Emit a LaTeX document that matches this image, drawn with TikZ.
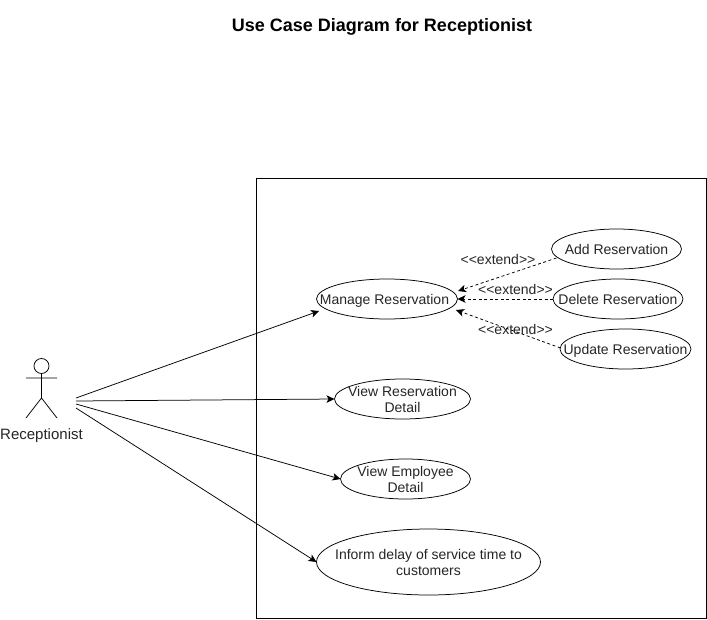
\documentclass[tikz,border=0pt]{standalone}
\usepackage{fontspec}
\setmainfont{Liberation Sans}
\usetikzlibrary{shapes.geometric,arrows.meta}
\begin{document}
\begin{tikzpicture}[x=1pt,y=-1pt,
 uc/.style={draw,ellipse,line width=.75pt,inner sep=0pt,outer sep=0pt},
 uct/.style={inner sep=0pt,align=center,font=\fontsize{14}{16}\selectfont,text=black!85},
 lbl/.style={inner sep=0pt,font=\fontsize{14}{16}\selectfont,text=black!85},
 assoc/.style={line width=.75pt,-{Stealth[length=8pt,width=7.5pt,inset=2pt]}},
 ext/.style={assoc,dash pattern=on 3pt off 2.5pt}]
\useasboundingbox (0,0) rectangle (707,619);
\fill[white] (0,0) rectangle (707,619);
\node[inner sep=0pt,font=\bfseries\fontsize{18}{21}\selectfont] (title) at (382,26.5) {Use Case Diagram for Receptionist};
\node[draw,line width=.75pt,minimum width=450pt,minimum height=439.5pt,inner sep=0pt] (sys) at (481,398.5) {};
\node[uc,minimum width=141pt,minimum height=40pt,label={[uct,xshift=-2.5pt,yshift=-1.5pt]center:Manage Reservation}] (mr) at (387,299) {};
\node[uc,minimum width=130pt,minimum height=40pt,label={[uct]center:Add Reservation}] (add) at (616.5,249) {};
\node[uc,minimum width=130pt,minimum height=40pt,label={[uct]center:Delete Reservation}] (del) at (618,299) {};
\node[uc,minimum width=131pt,minimum height=40pt,label={[uct,yshift=-1.5pt]center:Update Reservation}] (upd) at (625.5,349) {};
\node[uc,minimum width=136pt,minimum height=40pt,label={[uct]center:{View Reservation\\Detail}}] (vr) at (402.5,399) {};
\node[uc,minimum width=130pt,minimum height=40pt,label={[uct]center:{View Employee\\Detail}}] (ve) at (405.5,479) {};
\node[uc,minimum width=224pt,minimum height=66pt,label={[uct]center:{Inform delay of service time to\\customers}}] (inf) at (428.5,562) {};
\coordinate (head) at (41.5,366);
\draw[line width=.75pt] (head) circle (7.5pt);
\coordinate (neck) at (41.5,373.5);
\coordinate (hip) at (41.5,398);
\coordinate (armL) at (26,378);
\coordinate (armR) at (57,378);
\coordinate (footL) at (26,418);
\coordinate (footR) at (57,418);
\draw[line width=.75pt] (neck)--(hip) (armL)--(armR) (footL)--(hip)--(footR);
\node[inner sep=0pt,font=\fontsize{15}{17}\selectfont,text=black!85] (actor) at (41.5,436) {Receptionist};
\coordinate (a1) at (76,398);
\coordinate (a2) at (76,401);
\coordinate (a3) at (76,404);
\coordinate (a4) at (76,408);
\draw[assoc] (a1)--([shift={(-68,12)}]mr.center);
\draw[assoc] (a2)--(vr.west);
\draw[assoc] (a3)--(ve.west);
\draw[assoc] (a4)--(inf.west);
\draw[ext] ([shift={(-60,9)}]add.center)--([shift={(71,-8)}]mr.center);
\draw[ext] (del.west)--(mr.east);
\draw[ext] ([shift={(-65,-1)}]upd.center)--([shift={(69,11)}]mr.center);
\node[lbl] (e1) at (498,259) {<{}<extend>{}>};
\node[lbl] (e2) at (515.5,289) {<{}<extend>{}>};
\node[lbl] (e3) at (515.5,329) {<{}<extend>{}>};
\end{tikzpicture}
\end{document}
